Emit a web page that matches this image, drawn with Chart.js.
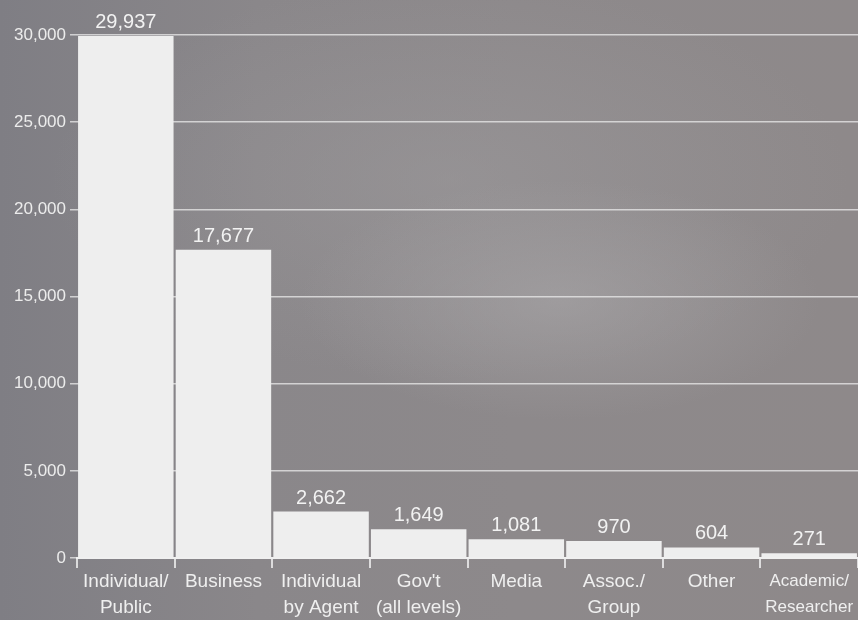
<!DOCTYPE html>
<html>
<head>
<meta charset="utf-8">
<script src="https://cdn.jsdelivr.net/npm/chart.js@4"></script>
<style>
html,body{margin:0;padding:0;width:858px;height:620px;overflow:hidden;}
body{background:
 radial-gradient(ellipse 260px 120px at 560px 300px, rgba(170,168,170,0.55), rgba(170,168,170,0) 100%),
 radial-gradient(ellipse 400px 200px at 450px 180px, rgba(160,158,160,0.45), rgba(160,158,160,0) 100%),
 linear-gradient(90deg, #7f7e84 0%, #8a878a 30%, #8d898b 60%, #8e898a 100%);}
#wrap{position:absolute;left:0;top:0;width:858px;height:620px;}
</style>
</head>
<body>
<div id="wrap"><canvas id="c" width="858" height="620"></canvas></div>
<script>
const categories = [["Individual/","Public"],"Business",["Individual","by Agent"],["Gov't","(all levels)"],"Media",["Assoc./","Group"],"Other",["Academic/","Researcher"]];
const values = [29937,17677,2662,1649,1081,970,604,271];
const yTicks = [0,5000,10000,15000,20000,25000,30000];

const FONT = "'Liberation Sans', Arial, sans-serif";
const labelPlugin = {
  id:'vals',
  afterDatasetsDraw(chart){
    const ctx = chart.ctx;
    const meta = chart.getDatasetMeta(0);
    ctx.save();
    ctx.fillStyle = '#f2f2f2';
    ctx.font = "20px " + FONT;
    ctx.textAlign = 'center';
    ctx.textBaseline = 'alphabetic';
    meta.data.forEach((bar,i)=>{
      ctx.fillText(values[i].toLocaleString('en-US'), bar.x, bar.y - 8);
    });
    ctx.restore();
  }
};

new Chart(document.getElementById('c'), {
  type:'bar',
  data:{labels:categories, datasets:[{data:values, backgroundColor:'#eeeeee', borderWidth:0, categoryPercentage:1, barPercentage:0.978}]},
  options:{
    responsive:false, animation:false,
    layout:{padding:{top:35,right:0,left:0,bottom:0}},
    plugins:{legend:{display:false}, tooltip:{enabled:false}},
    scales:{
      x:{
        offset:true,
        grid:{offset:true, drawOnChartArea:false, color:'rgba(235,235,235,0.85)', tickLength:10, lineWidth:2},
        border:{color:'#f0f0f0', width:2},
        ticks:{color:'#efefef', padding:0, maxRotation:0, autoSkip:false,
          font:(c)=> c.index===7 ? {family:FONT,size:17,lineHeight:1.55} : {family:FONT,size:19,lineHeight:1.4}},
        afterFit(s){ s.height = 62; }
      },
      y:{
        min:0, max:30000,
        afterBuildTicks(s){ s.ticks = yTicks.map(v=>({value:v})); },
        grid:{color:'rgba(235,235,235,0.75)', tickLength:7, lineWidth:1.5},
        border:{display:false},
        ticks:{color:'#ececec', padding:4, font:{family:FONT,size:17},
          callback:(v)=>Number(v).toLocaleString('en-US')},
        afterFit(s){ s.width = 77; }
      }
    }
  },
  plugins:[labelPlugin]
});
</script>
</body>
</html>
